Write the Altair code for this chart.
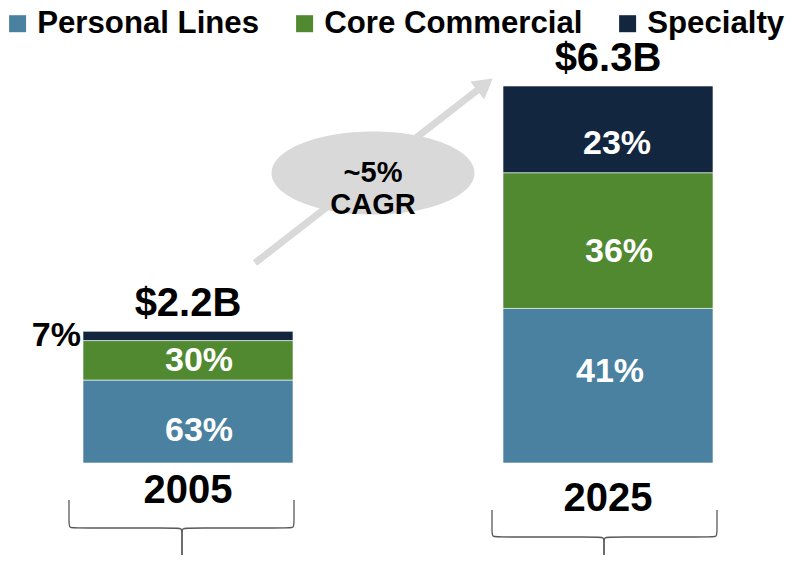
import altair as alt
import pandas as pd

# ---------------- data ----------------
years = ["2005", "2025"]
totals = [2.2, 6.3]
total_labels = ["$2.2B", "$6.3B"]
segments = ["Personal Lines", "Core Commercial", "Specialty"]
share_2005 = [63, 30, 7]
share_2025 = [41, 36, 23]
colors = ["#4A81A0", "#50892F", "#13263F"]
cagr_lines = ["~5%", "CAGR"]

# ---------------- geometry / style constants ----------------
W, H = 778, 547
PX_X = 420.0     # pixels per category step
PX_Y = 59.84     # pixels per $1B
X_DOM = [-180 / PX_X, 598 / PX_X]
Y_DOM = [-92 / PX_Y, 455 / PX_Y]
HALF = 0.25      # half bar width in category units
FONT = "Liberation Sans"
GREY = "#D9D9D9"

# small pixel nudges of the in-bar labels (dx, dy), as placed in the original slide
label_nudge = {("2005", "Personal Lines"): (11, 9), ("2005", "Core Commercial"): (11, 1),
               ("2025", "Personal Lines"): (2, -14), ("2025", "Core Commercial"): (11, 11),
               ("2025", "Specialty"): (9, 15)}

def px_x(p):
    return p / PX_X

def px_y(p):
    return p / PX_Y

rows = []
for i, (yr, tot, shares) in enumerate(zip(years, totals, [share_2005, share_2025])):
    base = 0.0
    for k, (seg, sh) in enumerate(zip(segments, shares)):
        v = tot * sh / 100.0
        nx, ny = label_nudge.get((yr, seg), (0, 0))
        rows.append(dict(year=yr, idx=i, segment=seg, order=k, label=f"{sh}%",
                         y0=base, y1=base + v, mid=base + v / 2,
                         lx=i + px_x(nx), ly=base + v / 2 - px_y(ny),
                         xl=i - HALF, xr=i + HALF))
        base += v
df = pd.DataFrame(rows)
df_tot = pd.DataFrame(dict(year=years, idx=list(range(len(years))), total=totals, label=total_labels))

# braces (annotation geometry, px offsets relative to bar centre / zero line)
brace_style = {"2005": dict(L=-119, R=106, C=-6, top=37, hor=65, tip=92),
               "2025": dict(L=-116, R=109, C=-4, top=47, hor=74, tip=99)}
brow = []
for i, yr in enumerate(years):
    b = brace_style[yr]
    for side, E, s in (("l", b["L"], 1), ("r", b["R"], -1)):
        pts = [(E, b["top"]), (E, b["hor"] - 6), (E, b["hor"]), (E + 6 * s, b["hor"]),
               (b["C"] - 6 * s, b["hor"]), (b["C"], b["hor"]), (b["C"], b["hor"] + 6), (b["C"], b["tip"])]
        for j, (px, py) in enumerate(pts):
            brow.append(dict(key=f"{yr}{side}", seq=j, x=i + px_x(px), y=-px_y(py)))
df_brace = pd.DataFrame(brow)

# arrow + ellipse annotation positions (px relative to 2005 bar centre / zero line)
arrow = pd.DataFrame(dict(seq=[0, 1], x=[px_x(67), px_x(296)], y=[px_y(200), px_y(378)]))
head = pd.DataFrame(dict(x=[px_x(297)], y=[px_y(378.5)]))
ell = pd.DataFrame(dict(x=[px_x(185)], y=[px_y(290)]))

xs = alt.Scale(domain=X_DOM, nice=False, zero=False)
ys = alt.Scale(domain=Y_DOM, nice=False, zero=False)

def X(f):
    return alt.X(f, type="quantitative", scale=xs, axis=None)

def Y(f):
    return alt.Y(f, type="quantitative", scale=ys, axis=None)

k = 0.5523
ry = 83 / 203
ellipse_path = (f"M -1 0 C -1 {-k*ry} {-k} {-ry} 0 {-ry} C {k} {-ry} 1 {-k*ry} 1 0 "
                f"C 1 {k*ry} {k} {ry} 0 {ry} C {-k} {ry} -1 {k*ry} -1 0 Z")

shaft = alt.Chart(arrow).mark_line(color=GREY, strokeWidth=7).encode(x=X("x"), y=Y("y"), order="seq:Q")
arrowhead = alt.Chart(head).mark_point(shape="triangle-up", filled=True, color=GREY, opacity=1,
                                       size=520, angle=52).encode(x=X("x"), y=Y("y"))
ellipse = alt.Chart(ell).mark_point(shape=ellipse_path, filled=True, color=GREY, opacity=1,
                                    size=203 * 203, strokeWidth=0).encode(x=X("x"), y=Y("y"))
cagr = alt.Chart(ell).mark_text(font=FONT, fontWeight="bold", fontSize=29, color="black",
                                lineHeight=32, baseline="middle", align="center").encode(
    x=X("x"), y=Y("y"), text=alt.value(cagr_lines))

bars = alt.Chart(df).mark_rect(stroke="white", strokeWidth=0.6).encode(
    x=X("xl"), x2="xr", y=Y("y0"), y2="y1",
    color=alt.Color("segment:N", scale=alt.Scale(domain=segments, range=colors),
                    legend=alt.Legend(orient="none", legendX=-6, legendY=0, direction="horizontal",
                                      title=None, symbolType="square", symbolSize=289,
                                      symbolStrokeWidth=0, labelFontSize=31.2, labelFont=FONT,
                                      labelFontWeight="bold", labelColor="black", labelOffset=4,
                                      columnPadding=29, padding=0, labelLimit=500)),
    order="order:Q")

inside = alt.Chart(df).transform_filter(
    "!(datum.year == '2005' && datum.segment == 'Specialty')").mark_text(
    font=FONT, fontWeight="bold", fontSize=34, color="white", baseline="middle").encode(
    x=X("lx"), y=Y("ly"), text="label:N")
outside = alt.Chart(df).transform_filter(
    "datum.year == '2005' && datum.segment == 'Specialty'").mark_text(
    font=FONT, fontWeight="bold", fontSize=34, color="black", baseline="middle", align="right", dx=-2).encode(
    x=X("xl"), y=Y("mid"), text="label:N")

tot_text = alt.Chart(df_tot).mark_text(font=FONT, fontWeight="bold", fontSize=40, color="black",
                                       baseline="alphabetic", dy=-15).encode(
    x=X("idx"), y=Y("total"), text="label:N")

yr05 = alt.Chart(df_tot).transform_filter("datum.year == '2005'").mark_text(
    font=FONT, fontWeight="bold", fontSize=40, color="black", baseline="middle", dy=28).encode(
    x=X("idx"), y=alt.Y("zero:Q", scale=ys, axis=None), text="year:N").transform_calculate(zero="0")
yr25 = alt.Chart(df_tot).transform_filter("datum.year == '2025'").mark_text(
    font=FONT, fontWeight="bold", fontSize=40, color="black", baseline="middle", dy=36).encode(
    x=X("idx"), y=alt.Y("zero:Q", scale=ys, axis=None), text="year:N").transform_calculate(zero="0")

braces = alt.Chart(df_brace).mark_line(color="#595959", strokeWidth=1.3, interpolate="basis").encode(
    x=X("x"), y=Y("y"), detail="key:N", order="seq:Q")

chart = alt.layer(shaft, arrowhead, ellipse, cagr, bars, inside, outside, tot_text, yr05, yr25, braces).properties(
    width=W, height=H, autosize=alt.AutoSizeParams(type="none"), padding=0
).configure_view(stroke=None)

chart.save("out.html", embed_options={"renderer": "svg", "actions": False})
